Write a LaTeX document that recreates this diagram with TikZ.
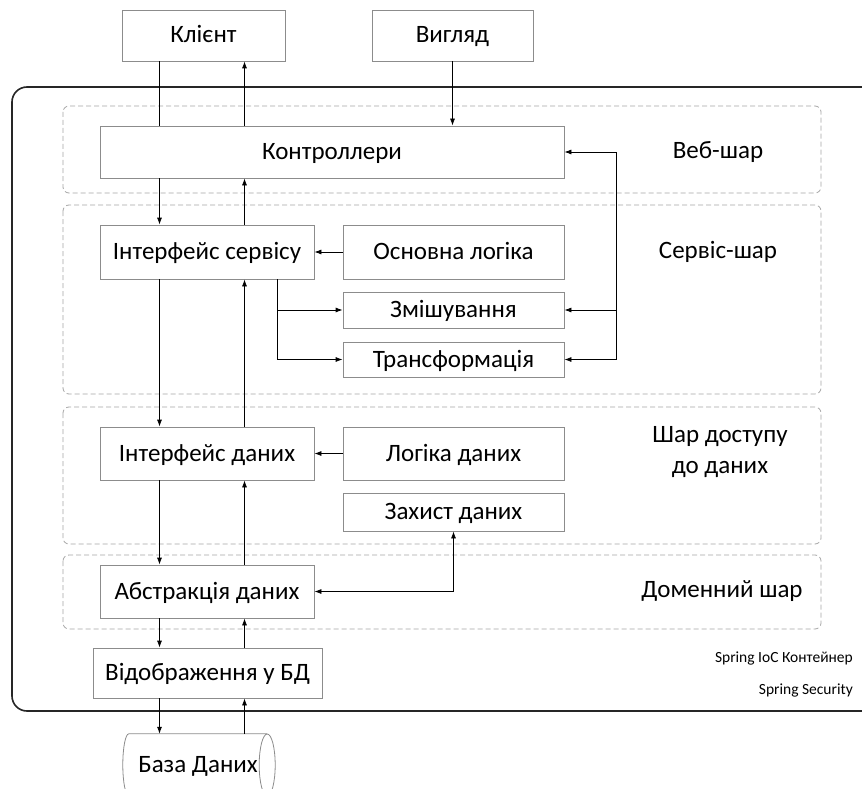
\documentclass[tikz,border=0pt]{standalone}
\usepackage{fontspec}
\setmainfont{Carlito}
\usetikzlibrary{arrows.meta}
\begin{document}
\begin{tikzpicture}[x=1pt,y=-1pt,
  box/.style={draw=black!45, line width=0.8pt, fill=white, inner sep=0pt, text height=16pt, text depth=1pt, font=\fontsize{25}{29}\selectfont},
  grp/.style={draw=black!35, dash pattern=on 5pt off 3pt, rounded corners=6pt, line width=0.8pt},
  conn/.style={line width=0.8pt, -{Latex[length=7pt,width=5pt]}},
  bidir/.style={line width=0.8pt, {Latex[length=7pt,width=5pt]}-{Latex[length=7pt,width=5pt]}},
  plain/.style={line width=0.8pt},
  cyl/.style={draw=black!45, line width=0.8pt},
  lbl/.style={inner sep=0pt, text height=16pt, text depth=1pt, font=\fontsize{25}{29}\selectfont},
  small/.style={font=\fontsize{15.5}{18}\selectfont, anchor=east, inner sep=0pt}]
\clip (0,0) rectangle (862,789);
\fill[white] (0,0) rectangle (862,789);
% outer container
\draw[line width=1.6pt, draw=black!85, rounded corners=15pt] (12,87) rectangle (900,711);
% layer groups
\draw[grp] (63,106) rectangle (821,193);
\draw[grp] (63,205) rectangle (821,394);
\draw[grp] (63,407) rectangle (821,544);
\draw[grp] (63,555) rectangle (821,629);
% guide coordinates
\coordinate (L) at (159.5,0);
\coordinate (R) at (244.5,0);
\coordinate (br) at (277.5,0);
\coordinate (loop) at (616,0);
% boxes
\node[box, minimum width=163pt, minimum height=51pt] (client) at (203.5,35.5) {Клієнт};
\node[box, minimum width=161pt, minimum height=51pt] (view) at (452.5,35.5) {Вигляд};
\node[box, minimum width=464pt, minimum height=52pt] (ctrl) at (332,152) {Контроллери};
\node[box, minimum width=214pt, minimum height=54pt] (isvc) at (207,252) {Інтерфейс сервісу};
\node[box, minimum width=221pt, minimum height=54pt] (logic) at (453.5,252) {Основна логіка};
\node[box, minimum width=221pt, minimum height=36pt] (mix) at (453.5,310) {Змішування};
\node[box, minimum width=221pt, minimum height=35pt] (trans) at (453.5,359.5) {Трансформація};
\node[box, minimum width=214pt, minimum height=53pt] (idata) at (207,453.5) {Інтерфейс даних};
\node[box, minimum width=221pt, minimum height=53pt] (dlogic) at (453.5,453.5) {Логіка даних};
\node[box, minimum width=221pt, minimum height=38pt] (dsec) at (453.5,512) {Захист даних};
\node[box, minimum width=214pt, minimum height=53pt] (abs) at (207,591.5) {Абстракція даних};
\node[box, minimum width=229pt, minimum height=50pt] (map) at (207.5,673) {Відображення у БД};
% database cylinder (horizontal)
\node[inner sep=0pt, minimum width=138pt, minimum height=62pt, text height=16pt, text depth=1pt, font=\fontsize{25}{29}\selectfont] (db) at (198,765) {База Даних};
\draw[cyl] (db.north east) -- (db.north west) arc[start angle=270, end angle=90, x radius=6, y radius=31] -- (db.south east);
\draw[cyl] (db.east) ellipse[x radius=8, y radius=31];
% layer labels
\node[lbl] (weblbl) at (718,151) {Веб-шар};
\node[lbl] (svclbl) at (718,251) {Сервіс-шар};
\node[align=center, inner sep=0pt, font=\fontsize{25}{31}\selectfont] (dallbl) at (720,452) {Шар доступу\\до даних};
\node[lbl] (domlbl) at (722,590) {Доменний шар};
\node[small] (ioc) at (853,658) {Spring IoC Контейнер};
\node[small] (sec) at (853,690) {Spring Security};
% connectors
\draw[plain] (client.south -| L) -- (ctrl.north -| L);
\draw[conn] (ctrl.north -| R) -- (client.south -| R);
\draw[conn] (view.south) -- (ctrl.north -| view.south);
\draw[conn] (ctrl.south -| L) -- (isvc.north -| L);
\draw[conn] (isvc.north -| R) -- (ctrl.south -| R);
\draw[conn] (isvc.south -| L) -- (idata.north -| L);
\draw[conn] (idata.north -| R) -- (isvc.south -| R);
\draw[conn] (idata.south -| L) -- (abs.north -| L);
\draw[conn] (abs.north -| R) -- (idata.south -| R);
\draw[conn] (abs.south -| L) -- (map.north -| L);
\draw[conn] (map.north -| R) -- (abs.south -| R);
\draw[conn] (map.south -| L) -- (db.north -| L);
\draw[conn] (db.north -| R) -- (map.south -| R);
\draw[conn] (logic.west) -- (isvc.east);
\draw[conn] (dlogic.west) -- (idata.east);
\draw[conn] (br |- isvc.south) |- (mix.west);
\draw[conn] (br |- mix.west) |- (trans.west);
\draw[plain] (loop |- trans.east) -- (loop |- ctrl.east);
\draw[conn] (loop |- ctrl.east) -- (ctrl.east);
\draw[conn] (loop |- mix.east) -- (mix.east);
\draw[conn] (loop |- trans.east) -- (trans.east);
\draw[bidir] (abs.east) -| (dsec.south);
\end{tikzpicture}
\end{document}
